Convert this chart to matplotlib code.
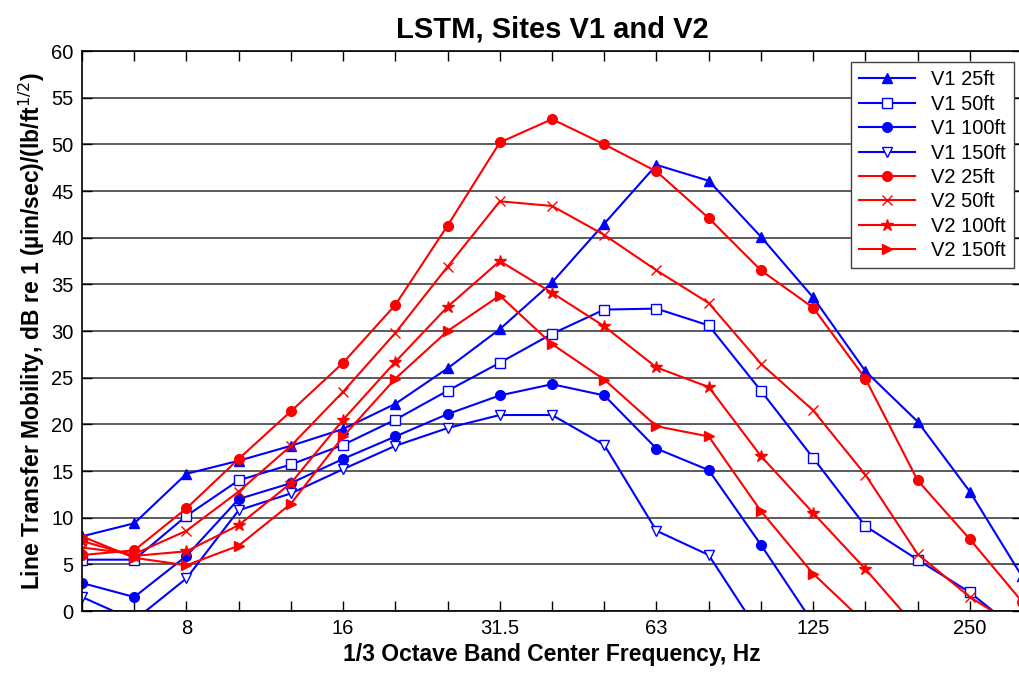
import matplotlib
matplotlib.use("Agg")
import matplotlib.pyplot as plt
import numpy as np

# 1/3 octave band centres (Hz), plotted at equal spacing
bandes = ["5", "6.3", "8", "10", "12.5", "16", "20", "25", "31.5", "40",
          "50", "63", "80", "100", "125", "160", "200", "250", "315"]
etiquettes = ["8", "16", "31.5", "63", "125", "250"]

v1_25 = [8.0, 9.4, 14.7, 16.1, 17.7, 19.5, 22.2, 26.0, 30.2, 35.2,
         41.5, 47.8, 46.1, 40.1, 33.6, 25.7, 20.3, 12.8, 3.7]
v1_50 = [5.5, 5.5, 10.2, 14.0, 15.7, 17.8, 20.5, 23.6, 26.6, 29.7,
         32.3, 32.4, 30.6, 23.6, 16.4, 9.1, 5.5, 2.0, -2.5]
v1_100 = [3.0, 1.5, 5.9, 12.0, 13.7, 16.3, 18.7, 21.1, 23.1, 24.3,
          23.1, 17.4, 15.1, 7.1, -1.3, -8, -8, -8, -8]
v1_150 = [1.5, -1.0, 3.5, 10.8, 12.6, 15.2, 17.7, 19.6, 21.0, 21.0,
          17.8, 8.6, 6.0, -2.6, -8, -8, -8, -8, -8]
v2_25 = [6.0, 6.5, 11.0, 16.3, 21.4, 26.6, 32.8, 41.3, 50.2, 52.7,
         50.0, 47.1, 42.1, 36.5, 32.5, 24.9, 14.0, 7.7, 1.0]
v2_50 = [6.8, 6.1, 8.6, 12.8, 17.7, 23.5, 29.8, 36.9, 43.9, 43.4,
         40.3, 36.5, 33.0, 26.5, 21.5, 14.6, 6.1, 1.5, -2.0]
v2_100 = [7.5, 5.9, 6.4, 9.2, 13.7, 20.5, 26.7, 32.6, 37.5, 34.1,
          30.5, 26.1, 24.0, 16.6, 10.5, 4.5, -1.9, -8, -8]
v2_150 = [8.0, 5.7, 4.9, 7.0, 11.5, 18.7, 24.9, 30.0, 33.8, 28.6,
          24.8, 19.8, 18.7, 10.7, 4.0, -1.3, -8, -8, -8]

series = [
    ("V1 25ft", v1_25, "blue", "^", "blue"),
    ("V1 50ft", v1_50, "blue", "s", "white"),
    ("V1 100ft", v1_100, "blue", "o", "blue"),
    ("V1 150ft", v1_150, "blue", "v", "white"),
    ("V2 25ft", v2_25, "red", "o", "red"),
    ("V2 50ft", v2_50, "red", "x", "red"),
    ("V2 100ft", v2_100, "red", "*", "red"),
    ("V2 150ft", v2_150, "red", ">", "red"),
]

plt.rcParams["font.family"] = ["Liberation Sans", "DejaVu Sans"]

fig = plt.figure(figsize=(10.2, 6.75), dpi=100)
ax = fig.add_axes([0.0804, 0.0948, 0.9216, 0.8296])

x = np.arange(len(bandes))
for nom, vals, coul, mk, face in series:
    ms = 9 if mk == "*" else 7
    ax.plot(x, vals, color=coul, marker=mk, markerfacecolor=face,
            markeredgecolor=coul, markersize=ms, linewidth=1.5, label=nom)

ax.set_xlim(0, len(bandes) - 1)
ax.set_ylim(0, 60)
ax.set_xticks(x)
ax.set_xticklabels([b if b in etiquettes else "" for b in bandes])
ax.set_yticks(np.arange(0, 61, 5))
ax.tick_params(direction="in", top=True, right=True, length=7, width=1,
               labelsize=14.5, pad=6)
ax.grid(axis="y", color="#404040", linewidth=1.2)
ax.set_axisbelow(True)
for s in ax.spines.values():
    s.set_linewidth(1.2)

ax.set_title("LSTM, Sites V1 and V2", fontsize=21, fontweight="bold", pad=10)
ax.set_xlabel("1/3 Octave Band Center Frequency, Hz", fontsize=16.5,
              fontweight="bold", labelpad=3)
ax.set_ylabel("Line Transfer Mobility, dB re 1 (\u00b5in/sec)/(lb/ft$^{1/2}$)",
              fontsize=16.5, fontweight="bold", labelpad=3)

leg = ax.legend(loc="upper right", fontsize=14.5, fancybox=False,
                framealpha=1, edgecolor="#404040", borderpad=0.4,
                handlelength=2.8, labelspacing=0.27, borderaxespad=0,
                bbox_to_anchor=(0.9915, 0.98))
leg.get_frame().set_linewidth(1)

fig.savefig("out.png", dpi=100)
